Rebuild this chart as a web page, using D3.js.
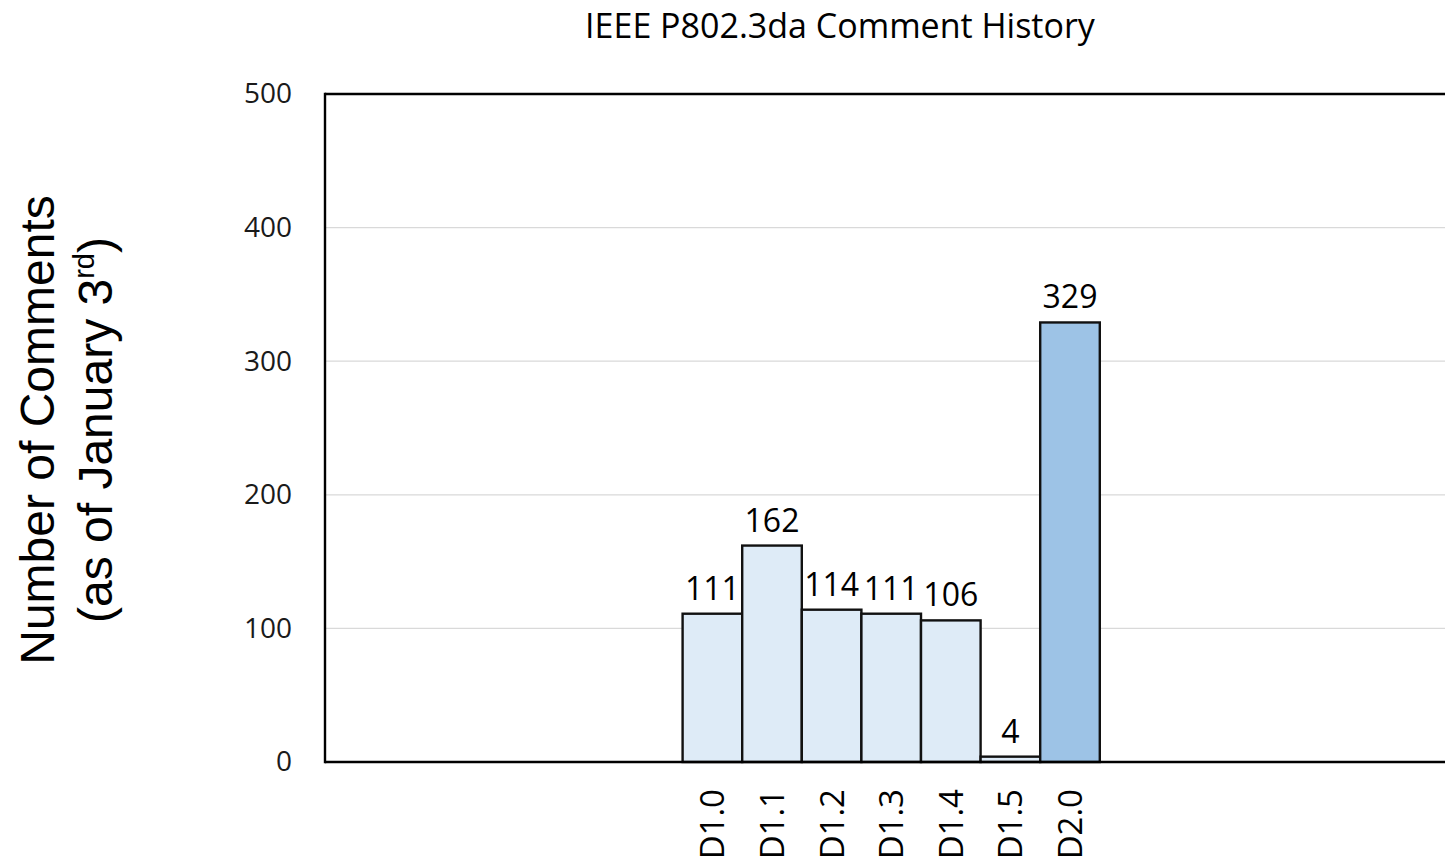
<!DOCTYPE html>
<html>
<head>
<meta charset="utf-8">
<script src="https://cdn.jsdelivr.net/npm/d3@7"></script>
<style>
  html, body { margin: 0; padding: 0; background: #fff; }
  svg { display: block; }
</style>
</head>
<body>
<svg id="chart" width="1445" height="865"></svg>
<script>
// ---- data ----
const categories = ["", "", "", "", "", "", "D1.0", "D1.1", "D1.2", "D1.3", "D1.4", "D1.5", "D2.0", "", "", "", "", "", ""];
const values     = [null, null, null, null, null, null, 111, 162, 114, 111, 106, 4, 329, null, null, null, null, null, null];
const barColors  = [null, null, null, null, null, null, "#DEEBF7", "#DEEBF7", "#DEEBF7", "#DEEBF7", "#DEEBF7", "#DEEBF7", "#9DC3E6", null, null, null, null, null, null];
const yTicks     = [0, 100, 200, 300, 400, 500];
const chartTitle = "IEEE P802.3da Comment History";

// ---- layout ----
const svg = d3.select("#chart");
const mLeft = 325, mTop = 94, mBottom = 762;
const bandW = 59.6;
const mRight = mLeft + bandW * categories.length;

const x = d3.scaleBand().domain(d3.range(categories.length)).range([mLeft, mRight]).padding(0);
const y = d3.scaleLinear().domain([0, 500]).range([mBottom, mTop]);

const sans = "'Open Sans', 'Noto Sans', sans-serif";
const arial = "'Liberation Sans', Arial, sans-serif";

// gridlines
svg.append("g").selectAll("line").data(yTicks.filter(t => t > 0 && t < 500)).join("line")
  .attr("x1", mLeft).attr("x2", mRight)
  .attr("y1", d => y(d)).attr("y2", d => y(d))
  .attr("stroke", "#d9d9d9").attr("stroke-width", 1.3);

// bars
const barData = values.map((v, i) => ({ i, v, c: barColors[i] })).filter(d => d.v !== null);
svg.append("g").selectAll("rect").data(barData).join("rect")
  .attr("x", d => x(d.i))
  .attr("y", d => y(d.v))
  .attr("width", x.bandwidth())
  .attr("height", d => y(0) - y(d.v))
  .attr("fill", d => d.c)
  .attr("stroke", "#111").attr("stroke-width", 2.4);

// data labels
svg.append("g").selectAll("text").data(barData).join("text")
  .attr("x", d => x(d.i) + x.bandwidth() / 2)
  .attr("y", d => y(d.v) - 14)
  .attr("text-anchor", "middle")
  .attr("font-family", sans).attr("font-size", 32)
  .attr("fill", "#000")
  .text(d => d.v);

// plot frame: top border, left axis, bottom axis
svg.append("line").attr("x1", mLeft).attr("x2", mRight).attr("y1", y(500)).attr("y2", y(500))
  .attr("stroke", "#000").attr("stroke-width", 2.4);
svg.append("line").attr("x1", mLeft).attr("x2", mLeft).attr("y1", y(500) - 1.2).attr("y2", y(0) + 1.2)
  .attr("stroke", "#000").attr("stroke-width", 2.4);
svg.append("line").attr("x1", mLeft).attr("x2", mRight).attr("y1", y(0)).attr("y2", y(0))
  .attr("stroke", "#000").attr("stroke-width", 2.4);

// y axis via d3
const yAxis = d3.axisLeft(y).tickValues(yTicks).tickSize(0).tickPadding(33).tickFormat(d3.format("d"));
const gy = svg.append("g").attr("transform", `translate(${mLeft},0)`).call(yAxis);
gy.select(".domain").remove();
gy.selectAll("text").attr("font-family", sans).attr("font-size", 28).attr("fill", "#1a1a1a");

// x axis labels via d3 axis
const xAxis = d3.axisBottom(x).tickSize(0).tickFormat(i => categories[i]);
const gx = svg.append("g").attr("transform", `translate(0,${mBottom})`).call(xAxis);
gx.select(".domain").remove();
gx.selectAll(".tick text")
  .attr("font-family", sans).attr("font-size", 33).attr("fill", "#000")
  .attr("text-anchor", "end")
  .attr("dy", null)
  .attr("y", 0)
  .attr("transform", "translate(12,27) rotate(-90)");

// title
svg.append("text")
  .attr("x", 840).attr("y", 38)
  .attr("text-anchor", "middle")
  .attr("font-family", sans).attr("font-size", 34)
  .attr("fill", "#000")
  .text(chartTitle);

// y axis title (two lines, rotated)
svg.append("text")
  .attr("transform", "translate(54,430) rotate(-90)")
  .attr("text-anchor", "middle")
  .attr("font-family", arial)
  .attr("font-size", 48).attr("fill", "#000")
  .text("Number of Comments");
const line2 = svg.append("text")
  .attr("transform", "translate(112,430) rotate(-90)")
  .attr("text-anchor", "middle")
  .attr("font-family", arial)
  .attr("font-size", 48).attr("fill", "#000");
line2.append("tspan").text("(as of January 3");
line2.append("tspan").attr("font-size", 29).attr("dy", -18).text("rd");
line2.append("tspan").attr("dy", 18).text(")");
</script>
</body>
</html>
